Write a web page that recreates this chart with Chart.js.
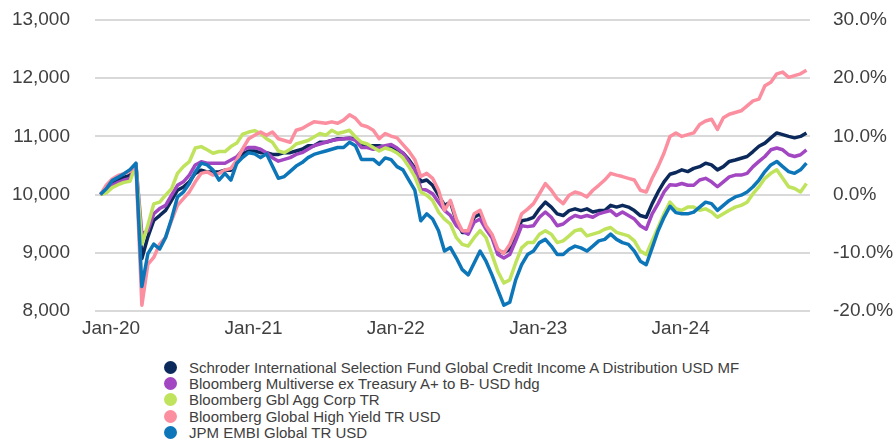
<!DOCTYPE html>
<html>
<head>
<meta charset="utf-8">
<script src="https://cdn.jsdelivr.net/npm/chart.js@4.4.1/dist/chart.umd.min.js"></script>
<style>
  html, body { margin: 0; padding: 0; background: #fff; }
  #wrap { position: relative; width: 896px; height: 447px; }
  #chart { position: absolute; left: 0; top: 0; }
  #legend {
    position: absolute; left: 164px; top: 359px;
    font-family: 'Liberation Sans', Arial, sans-serif; font-size: 15px; color: #404040;
  }
  .item { display: flex; align-items: center; height: 16.4px; white-space: nowrap; }
  .dot { width: 13px; height: 13px; border-radius: 50%; margin-right: 12px; flex: none; }
</style>
</head>
<body>
<div id="wrap">
  <canvas id="chart" width="896" height="345"></canvas>
  <div id="legend"></div>
</div>
<script>
// ── Data (growth of 10,000, semi-monthly readings) ──
const SERIES_NAMES = [
  'Schroder International Selection Fund Global Credit Income A Distribution USD MF',
  'Bloomberg Multiverse ex Treasury A+ to B- USD hdg',
  'Bloomberg Gbl Agg Corp TR',
  'Bloomberg Global High Yield TR USD',
  'JPM EMBI Global TR USD',
];

const TICK_LABELS = ['Jan-20', 'Jan-21', 'Jan-22', 'Jan-23', 'Jan-24'];
const TICK_MONTHS = [0, 12, 24, 36, 48];   // months after Jan-20
const FIRST_MONTH = -0.9;                  // first reading, early Dec-19
const STEP_MONTHS = 0.5;

const schroder = [
  10000, 10080, 10200, 10250, 10300, 10330, 10520, 8900, 9270, 9555,
  9640, 9730, 9900, 10075, 10130, 10220, 10365, 10420, 10390, 10390,
  10390, 10420, 10420, 10540, 10700, 10750, 10750, 10720, 10720, 10690,
  10690, 10720, 10720, 10750, 10780, 10840, 10840, 10900, 10900, 10930,
  10960, 10960, 10970, 10960, 10870, 10840, 10840, 10840, 10820, 10830,
  10770, 10715, 10600, 10455, 10220, 10250, 10160, 9990, 9815, 9870,
  9550, 9350, 9350, 9610, 9670, 9435, 9290, 9030, 9000, 9060,
  9320, 9550, 9570, 9610, 9755, 9870, 9785, 9670, 9640, 9725,
  9755, 9725, 9755, 9700, 9725, 9725, 9815, 9785, 9815, 9785,
  9725, 9640, 9610, 9845, 10045, 10220, 10350, 10380, 10425, 10395,
  10450, 10480, 10540, 10510, 10425, 10480, 10570, 10595, 10625, 10655,
  10740, 10830, 10885, 10975, 11060, 11030, 11000, 10975, 11000, 11060,
];

const multiverse = [
  10000, 10060, 10160, 10210, 10250, 10280, 10520, 9320, 9380, 9670,
  9760, 9815, 9990, 10160, 10220, 10335, 10510, 10565, 10540, 10540,
  10540, 10540, 10595, 10650, 10770, 10810, 10810, 10780, 10720, 10635,
  10575, 10605, 10635, 10690, 10720, 10780, 10840, 10870, 10900, 10930,
  10945, 10960, 10970, 10930, 10810, 10810, 10780, 10810, 10840, 10860,
  10800, 10715, 10570, 10425, 10105, 10075, 10015, 9870, 9730, 9640,
  9465, 9380, 9320, 9525, 9580, 9405, 9260, 8970, 8910, 8970,
  9205, 9465, 9450, 9465, 9610, 9700, 9610, 9465, 9495, 9580,
  9640, 9610, 9640, 9610, 9670, 9700, 9725, 9640, 9700, 9640,
  9580, 9465, 9405, 9670, 9845, 10045, 10170, 10160, 10190, 10160,
  10160, 10250, 10280, 10220, 10135, 10220, 10305, 10335, 10335, 10365,
  10480, 10570, 10655, 10770, 10800, 10770, 10685, 10655, 10685, 10770,
];

const aggCorp = [
  10000, 10030, 10120, 10170, 10210, 10230, 10520, 9150, 9470, 9840,
  9870, 9990, 10100, 10365, 10480, 10565, 10800, 10825, 10770, 10710,
  10740, 10740, 10825, 10885, 11040, 11075, 11100, 11050, 10960, 10900,
  10750, 10720, 10780, 10870, 10900, 10930, 10990, 11050, 11020, 11105,
  11050, 11075, 11105, 10990, 10900, 10870, 10810, 10750, 10800, 10770,
  10715, 10630, 10480, 10310, 10045, 9990, 9900, 9700, 9580, 9495,
  9260, 9145, 9115, 9260, 9380, 9260, 8970, 8680, 8480, 8535,
  8825, 9085, 9175, 9175, 9320, 9380, 9320, 9175, 9205, 9290,
  9380, 9405, 9290, 9320, 9350, 9405, 9435, 9350, 9320, 9290,
  9205, 9030, 8970, 9205, 9435, 9670, 9870, 9760, 9730, 9785,
  9785, 9730, 9755, 9700, 9610, 9670, 9730, 9785, 9815, 9870,
  10015, 10135, 10280, 10365, 10425, 10280, 10135, 10105, 10045, 10190,
];

const highYield = [
  10000, 10160, 10270, 10330, 10360, 10400, 10500, 8100, 8800, 8920,
  9150, 9265, 9555, 9815, 9930, 10045, 10220, 10365, 10390, 10335,
  10365, 10420, 10450, 10595, 10790, 10960, 11020, 11075, 11020, 11075,
  10960, 10930, 10900, 11105, 11135, 11195, 11250, 11240, 11225, 11250,
  11225, 11280, 11370, 11310, 11195, 11165, 11105, 10960, 11050, 11005,
  10975, 10860, 10745, 10600, 10310, 10365, 10280, 10075, 9730, 9900,
  9580, 9380, 9380, 9670, 9730, 9465, 9320, 9060, 8990, 9145,
  9380, 9670, 9750, 9845, 10015, 10190, 10075, 9930, 9845, 9990,
  10045, 10015, 9960, 10075, 10160, 10250, 10365, 10335, 10310, 10280,
  10250, 10075, 10045, 10280, 10480, 10715, 11000, 11060, 11000, 11030,
  11060, 11205, 11265, 11295, 11120, 11320, 11380, 11410, 11440, 11525,
  11610, 11640, 11870, 11930, 12075, 12105, 12015, 12045, 12075, 12135,
];

const embi = [
  10000, 10100, 10240, 10300, 10360, 10430, 10540, 8420, 8980, 9150,
  9065, 9265, 9585, 9960, 10045, 10190, 10390, 10540, 10510, 10420,
  10250, 10365, 10250, 10540, 10640, 10720, 10700, 10635, 10700, 10490,
  10280, 10310, 10400, 10490, 10550, 10635, 10690, 10720, 10750, 10780,
  10810, 10810, 10900, 10840, 10605, 10605, 10605, 10520, 10630, 10600,
  10480, 10425, 10250, 10075, 9550, 9670, 9580, 9380, 9030, 9090,
  8910, 8710, 8620, 8825, 9030, 8855, 8620, 8360, 8100, 8150,
  8535, 8795, 8970, 9030, 9175, 9230, 9115, 8970, 8970, 9060,
  9115, 9085, 9030, 9115, 9205, 9230, 9320, 9230, 9175, 9145,
  9030, 8855, 8795, 9085, 9380, 9610, 9800, 9690, 9670, 9670,
  9700, 9785, 9870, 9845, 9730, 9815, 9900, 9960, 9990, 10045,
  10135, 10250, 10395, 10510, 10570, 10480, 10395, 10365, 10425, 10540,
];

const SERIES_VALUES = [schroder, multiverse, aggCorp, highYield, embi];
const COLORS = ['#0b2a5b', '#a247c1', '#bfe35c', '#fb8fa0', '#0d76b9'];
const DRAW_ORDER = [5, 4, 3, 2, 1];   // last series sits on top

const FONT = { family: "'Liberation Sans', Arial, sans-serif", size: 19 };
const TEXT = '#404040';

// keep the plot box fixed: no automatic padding for edge labels
const noEdgePad = s => {
  s.paddingTop = 0; s.paddingBottom = 0; s.paddingLeft = 0; s.paddingRight = 0;
};

const datasets = SERIES_VALUES.map((vals, i) => ({
  label: SERIES_NAMES[i],
  data: vals.map((v, j) => ({ x: FIRST_MONTH + j * STEP_MONTHS, y: v })),
  borderColor: COLORS[i],
  backgroundColor: COLORS[i],
  borderWidth: 3.5,
  pointRadius: 0,
  tension: 0,
  borderJoinStyle: 'round',
  order: DRAW_ORDER[i],
  yAxisID: 'y',
}));

new Chart(document.getElementById('chart'), {
  type: 'line',
  data: { datasets },
  options: {
    responsive: false,
    animation: false,
    layout: { padding: { top: 20, left: 0, right: 0, bottom: 0 } },
    plugins: { legend: { display: false }, tooltip: { enabled: false } },
    scales: {
      x: {
        type: 'linear',
        min: -1.35,
        max: 58.9,
        grid: { display: false, drawTicks: false },
        border: { display: false },
        afterBuildTicks: s => { s.ticks = TICK_MONTHS.map(v => ({ value: v })); },
        afterFit: s => { s.height = 34; noEdgePad(s); },
        ticks: {
          color: TEXT, font: FONT, padding: 6, maxRotation: 0, autoSkip: false,
          callback: (v, i) => TICK_LABELS[i],
        },
      },
      y: {
        position: 'left',
        min: 8000,
        max: 13000,
        grid: { color: '#d9d9d9', lineWidth: 2, drawTicks: false },
        border: { display: false },
        afterFit: s => { s.width = 95; noEdgePad(s); },
        ticks: {
          stepSize: 1000, color: TEXT, font: FONT, padding: 25,
          callback: v => v.toLocaleString('en-US'),
        },
      },
      y2: {
        position: 'right',
        min: -20,
        max: 30,
        grid: { display: false, drawTicks: false },
        border: { display: false },
        afterFit: s => { s.width = 86; noEdgePad(s); },
        ticks: {
          stepSize: 10, color: TEXT, font: FONT, padding: 23,
          callback: v => v.toFixed(1) + '%',
        },
      },
    },
  },
});

// ── Legend (one entry per line) ──
const legend = document.getElementById('legend');
SERIES_NAMES.forEach((name, i) => {
  const row = document.createElement('div');
  row.className = 'item';
  row.innerHTML = `<span class="dot" style="background:${COLORS[i]}"></span><span>${name}</span>`;
  legend.appendChild(row);
});
</script>
</body>
</html>
